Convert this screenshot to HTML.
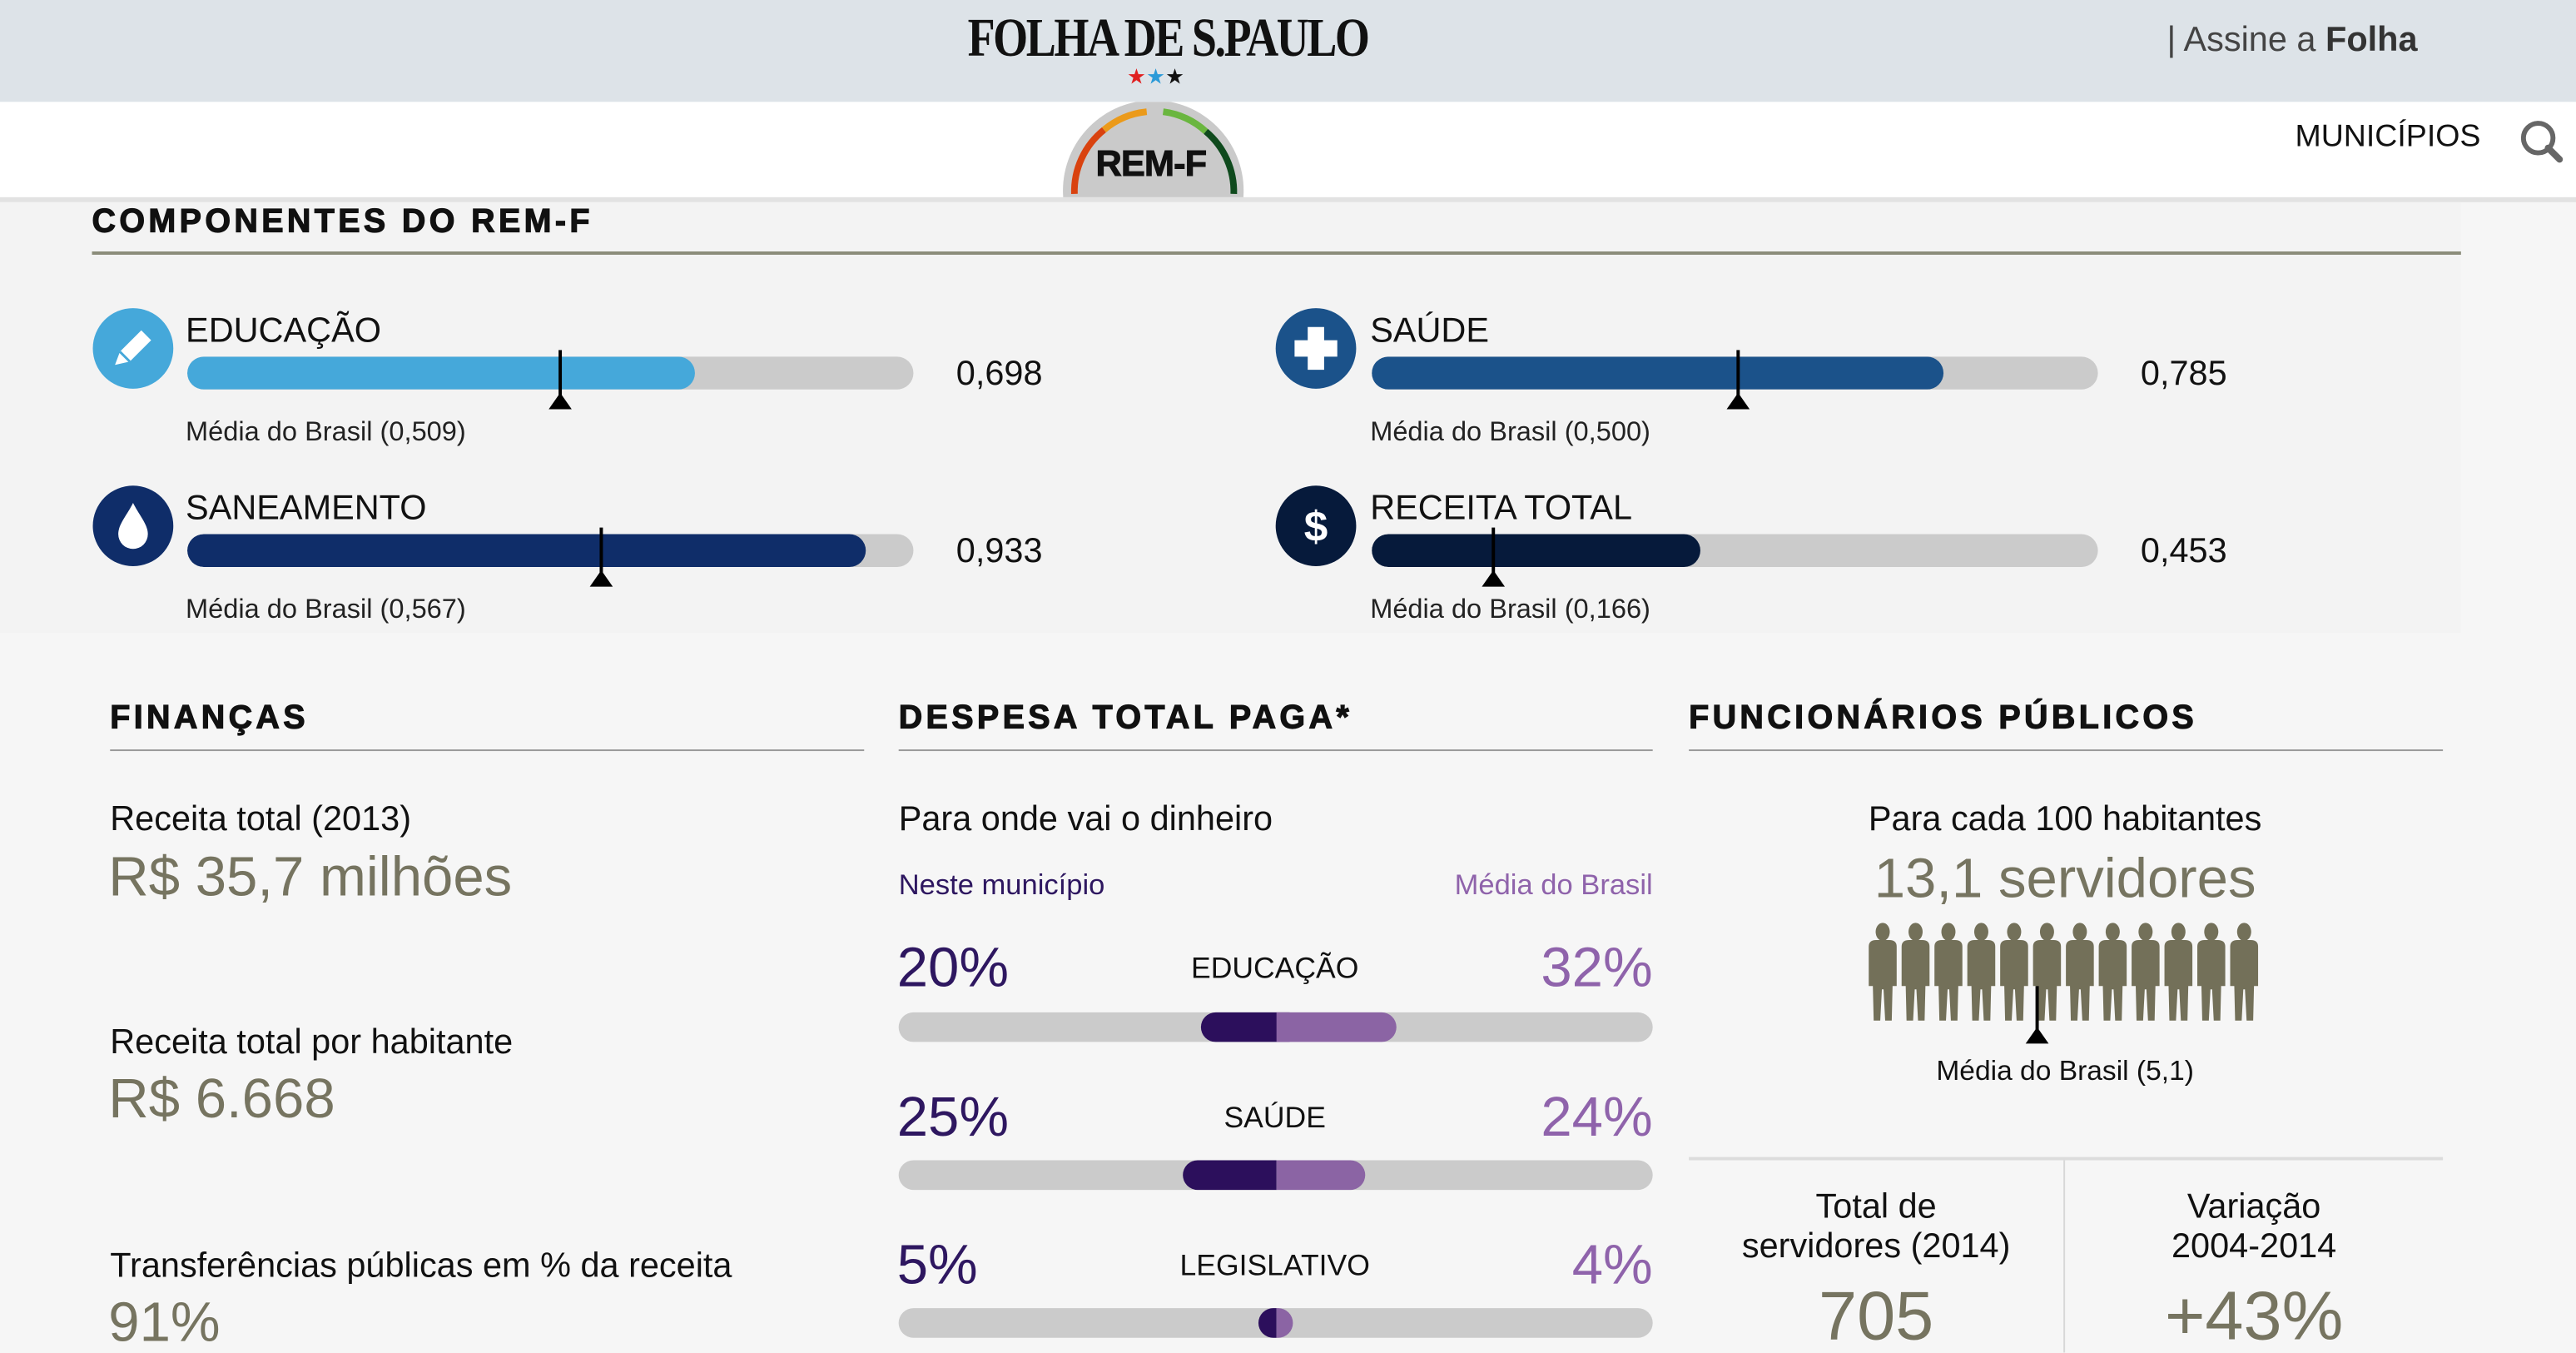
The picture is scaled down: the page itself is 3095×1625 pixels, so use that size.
<!DOCTYPE html>
<html><head><meta charset="utf-8">
<style>
html,body{margin:0;padding:0;}
body{width:3095px;height:1625px;overflow:hidden;background:#f6f6f6;}
#s{position:absolute;left:0;top:0;width:1568px;height:823px;transform:scale(1.97385);transform-origin:0 0;font-family:"Liberation Sans",Arial,sans-serif;background:#f6f6f6;overflow:hidden;}
.a{position:absolute;white-space:nowrap;}
.t{position:absolute;white-space:nowrap;line-height:1;}
.h{font-weight:900;font-size:20px;color:#111;letter-spacing:2.2px;-webkit-text-stroke:0.6px #111;}
.bar{position:absolute;height:20px;border-radius:10px;background:#cbcbcb;overflow:hidden;}
.fill{position:absolute;left:0;top:0;height:20px;border-radius:10px;}
.mk{position:absolute;width:1.5px;background:#000;}
.tri{position:absolute;width:0;height:0;border-left:7px solid transparent;border-right:7px solid transparent;border-bottom:10px solid #000;}
.ol{color:#767460;}
.pb{position:absolute;height:18px;border-radius:9px;background:#cbcbcb;left:547px;width:459px;}
.m{font-size:16.5px;color:#222;}
</style></head><body>
<div id="s">
<div class="a" style="left:0;top:0;width:1568px;height:62px;background:#dde3e8;"></div>
<div class="t" style="left:589px;top:8px;font-family:'Liberation Serif',serif;font-weight:bold;font-size:33px;color:#111;letter-spacing:-1.5px;transform:scaleX(0.83);transform-origin:0 0;width:290px;">FOLHA DE S.PAULO</div>
<div class="t" style="left:686px;top:40px;font-size:13px;"><span style="color:#e02020">★</span><span style="color:#2a9ad8">★</span><span style="color:#111">★</span></div>
<div class="t" style="left:1319px;top:14px;font-size:21px;color:#444;">| Assine a <b style="color:#333">Folha</b></div>
<div class="a" style="left:0;top:62px;width:1568px;height:58px;background:#fff;"></div>
<div class="a" style="left:0;top:120px;width:1568px;height:3px;background:#e2e2e2;"></div>
<svg class="a" style="left:640px;top:62px;" width="124" height="58" viewBox="640 62 124 58">
<circle cx="702" cy="116" r="55" fill="#cacaca"/>
<path d="M654 118 A48 48 0 0 1 672 79" stroke="#d9420f" stroke-width="4" fill="none"/>
<path d="M672 79 A48 48 0 0 1 698 68" stroke="#eb9a1a" stroke-width="4" fill="none"/>
<path d="M708 68 A48 48 0 0 1 734 80" stroke="#6ab63f" stroke-width="4" fill="none"/>
<path d="M734 80 A48 48 0 0 1 751 118" stroke="#0f4a1d" stroke-width="4" fill="none"/>
</svg>
<div class="t" style="left:667px;top:89px;font-size:22px;font-weight:900;color:#111;letter-spacing:-0.5px;-webkit-text-stroke:0.5px #111;">REM-F</div>
<div class="t" style="left:1397px;top:74px;font-size:19px;color:#111;">MUNICÍPIOS</div>
<svg class="a" style="left:1533px;top:72px;" width="28" height="28"><circle cx="12" cy="12" r="9" stroke="#666" stroke-width="3" fill="none"/><line x1="18" y1="18" x2="25" y2="25" stroke="#666" stroke-width="4" stroke-linecap="round"/></svg>

<div class="a" style="left:0;top:123px;width:1498px;height:262px;background:#f3f3f3;"></div>
<div class="t h" style="left:56px;top:125px;">COMPONENTES DO REM-F</div>
<div class="a" style="left:56px;top:153px;width:1442px;height:2px;background:#8b8c7a;"></div>

<svg class="a" style="left:56px;top:187px;" width="50" height="50"><circle cx="25" cy="25" r="24.5" fill="#45a8da"/><path d="M14 35 L17 27 L30 14 L36 20 L23 33 Z" fill="#fff"/><path d="M17 27 L23 33" stroke="#45a8da" stroke-width="1.5"/></svg>
<div class="t" style="left:113px;top:191px;font-size:21px;color:#111;">EDUCAÇÃO</div>
<div class="bar" style="left:114px;top:217px;width:442px;"><div class="fill" style="width:309px;background:#45a8da;"></div></div>
<div class="mk" style="left:340px;top:213px;height:30px;"></div><div class="tri" style="left:334px;top:239px;"></div>
<div class="t" style="left:582px;top:217px;font-size:21px;color:#111;">0,698</div>
<div class="t m" style="left:113px;top:255px;">Média do Brasil (0,509)</div>

<svg class="a" style="left:776px;top:187px;" width="50" height="50"><circle cx="25" cy="25" r="24.5" fill="#1b528a"/><path d="M20 12h10v8h8v10h-8v8h-10v-8h-8v-10h8z" fill="#fff"/></svg>
<div class="t" style="left:834px;top:191px;font-size:21px;color:#111;">SAÚDE</div>
<div class="bar" style="left:835px;top:217px;width:442px;"><div class="fill" style="width:348px;background:#1b528a;"></div></div>
<div class="mk" style="left:1057px;top:213px;height:30px;"></div><div class="tri" style="left:1051px;top:239px;"></div>
<div class="t" style="left:1303px;top:217px;font-size:21px;color:#111;">0,785</div>
<div class="t m" style="left:834px;top:255px;">Média do Brasil (0,500)</div>

<svg class="a" style="left:56px;top:295px;" width="50" height="50"><circle cx="25" cy="25" r="24.5" fill="#0f2d69"/><path d="M25 11 C21 19 16 24 16 30 A9 9 0 0 0 34 30 C34 24 29 19 25 11Z" fill="#fff"/></svg>
<div class="t" style="left:113px;top:299px;font-size:21px;color:#111;">SANEAMENTO</div>
<div class="bar" style="left:114px;top:325px;width:442px;"><div class="fill" style="width:413px;background:#0f2d69;"></div></div>
<div class="mk" style="left:365px;top:321px;height:30px;"></div><div class="tri" style="left:359px;top:347px;"></div>
<div class="t" style="left:582px;top:325px;font-size:21px;color:#111;">0,933</div>
<div class="t m" style="left:113px;top:363px;">Média do Brasil (0,567)</div>

<svg class="a" style="left:776px;top:295px;" width="50" height="50"><circle cx="25" cy="25" r="24.5" fill="#061a3b"/><text x="25" y="34" text-anchor="middle" font-family="Liberation Sans" font-weight="bold" font-size="26" fill="#fff">$</text></svg>
<div class="t" style="left:834px;top:299px;font-size:21px;color:#111;">RECEITA TOTAL</div>
<div class="bar" style="left:835px;top:325px;width:442px;"><div class="fill" style="width:200px;background:#061a3b;"></div></div>
<div class="mk" style="left:908px;top:321px;height:30px;"></div><div class="tri" style="left:902px;top:347px;"></div>
<div class="t" style="left:1303px;top:325px;font-size:21px;color:#111;">0,453</div>
<div class="t m" style="left:834px;top:363px;">Média do Brasil (0,166)</div>

<div class="t h" style="left:67px;top:427px;">FINANÇAS</div>
<div class="a" style="left:67px;top:456px;width:459px;height:1px;background:#999;"></div>
<div class="t" style="left:67px;top:488px;font-size:21px;color:#111;">Receita total (2013)</div>
<div class="t ol" style="left:66px;top:517px;font-size:34px;">R$ 35,7 milhões</div>
<div class="t" style="left:67px;top:624px;font-size:21px;color:#111;">Receita total por habitante</div>
<div class="t ol" style="left:66px;top:652px;font-size:34px;">R$ 6.668</div>
<div class="t" style="left:67px;top:760px;font-size:21px;color:#111;">Transferências públicas em % da receita</div>
<div class="t ol" style="left:66px;top:788px;font-size:34px;">91%</div>

<div class="t h" style="left:547px;top:427px;">DESPESA TOTAL PAGA*</div>
<div class="a" style="left:547px;top:456px;width:459px;height:1px;background:#999;"></div>
<div class="t" style="left:547px;top:488px;font-size:21px;color:#111;">Para onde vai o dinheiro</div>
<div class="t" style="left:547px;top:530px;font-size:17.5px;color:#2e1760;">Neste município</div>
<div class="t" style="left:806px;top:530px;width:200px;text-align:right;font-size:17.5px;color:#8f63ab;">Média do Brasil</div>

<div class="t" style="left:546px;top:572px;font-size:34px;color:#2e1760;">20%</div>
<div class="t" style="left:676px;top:580px;width:200px;text-align:center;font-size:18px;color:#111;">EDUCAÇÃO</div>
<div class="t" style="left:906px;top:572px;width:100px;text-align:right;font-size:34px;color:#8f63ab;">32%</div>
<div class="pb" style="top:616px;"></div>
<div class="a" style="left:731px;top:616px;width:54px;height:18px;border-radius:9px 0 0 9px;background:#2c0f5c;"></div>
<div class="a" style="left:777px;top:616px;width:73px;height:18px;border-radius:0 9px 9px 0;background:#8b64a4;"></div>

<div class="t" style="left:546px;top:663px;font-size:34px;color:#2e1760;">25%</div>
<div class="t" style="left:676px;top:671px;width:200px;text-align:center;font-size:18px;color:#111;">SAÚDE</div>
<div class="t" style="left:906px;top:663px;width:100px;text-align:right;font-size:34px;color:#8f63ab;">24%</div>
<div class="pb" style="top:706px;"></div>
<div class="a" style="left:720px;top:706px;width:57px;height:18px;border-radius:9px 0 0 9px;background:#2c0f5c;"></div>
<div class="a" style="left:777px;top:706px;width:54px;height:18px;border-radius:0 9px 9px 0;background:#8b64a4;"></div>

<div class="t" style="left:546px;top:753px;font-size:34px;color:#2e1760;">5%</div>
<div class="t" style="left:676px;top:761px;width:200px;text-align:center;font-size:18px;color:#111;">LEGISLATIVO</div>
<div class="t" style="left:906px;top:753px;width:100px;text-align:right;font-size:34px;color:#8f63ab;">4%</div>
<div class="pb" style="top:796px;"></div>
<div class="a" style="left:766px;top:796px;width:11px;height:18px;border-radius:9px 0 0 9px;background:#2c0f5c;"></div>
<div class="a" style="left:777px;top:796px;width:10px;height:18px;border-radius:0 9px 9px 0;background:#8b64a4;"></div>

<div class="t h" style="left:1028px;top:427px;">FUNCIONÁRIOS PÚBLICOS</div>
<div class="a" style="left:1028px;top:456px;width:459px;height:1px;background:#999;"></div>
<div class="t" style="left:1057px;top:488px;width:400px;text-align:center;font-size:21px;color:#111;">Para cada 100 habitantes</div>
<div class="t ol" style="left:1057px;top:518px;width:400px;text-align:center;font-size:34px;">13,1 servidores</div>
<svg class="a" style="left:1136px;top:560px;" width="244" height="64">
<defs><g id="p" fill="#737059"><ellipse cx="10" cy="7" rx="4.3" ry="5.5"/><path d="M1.5 16 Q1.5 12 6 12 L14 12 Q18.5 12 18.5 16 L18.5 40 L16 40 L15.5 61 L11.5 61 L10.5 42 L9.5 42 L8.5 61 L4.5 61 L4 40 L1.5 40Z"/></g></defs>
<use href="#p" x="0"/><use href="#p" x="20"/><use href="#p" x="40"/><use href="#p" x="60"/><use href="#p" x="80"/><use href="#p" x="100"/><use href="#p" x="120"/><use href="#p" x="140"/><use href="#p" x="160"/><use href="#p" x="180"/><use href="#p" x="200"/><use href="#p" x="220"/>
</svg>
<div class="mk" style="left:1239px;top:600px;height:30px;"></div><div class="tri" style="left:1233px;top:625px;"></div>
<div class="t" style="left:1057px;top:643px;width:400px;text-align:center;font-size:17px;color:#111;">Média do Brasil (5,1)</div>
<div class="a" style="left:1028px;top:704px;width:459px;height:2px;background:#dcdcdc;"></div>
<div class="a" style="left:1256px;top:706px;width:1px;height:117px;background:#d8d8d8;"></div>
<div class="t" style="left:1042px;top:723px;width:200px;text-align:center;font-size:21px;color:#111;line-height:24px;white-space:normal;">Total de<br>servidores (2014)</div>
<div class="t ol" style="left:1042px;top:780px;width:200px;text-align:center;font-size:42px;">705</div>
<div class="t" style="left:1272px;top:723px;width:200px;text-align:center;font-size:21px;color:#111;line-height:24px;white-space:normal;">Variação<br>2004-2014</div>
<div class="t ol" style="left:1272px;top:780px;width:200px;text-align:center;font-size:42px;">+43%</div>
</div>
</body></html>
